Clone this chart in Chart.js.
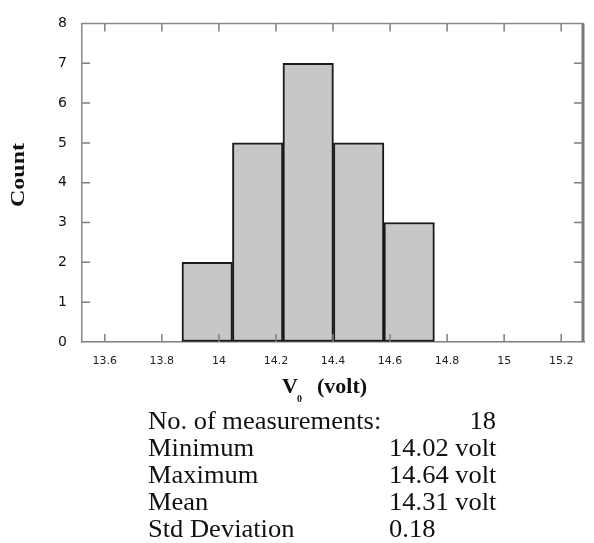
<!DOCTYPE html>
<html>
<head>
<meta charset="utf-8">
<script src="https://cdn.jsdelivr.net/npm/chart.js@4/dist/chart.umd.min.js"></script>
<style>
  html, body { margin: 0; padding: 0; background: #fff; }
  #wrap { width: 594px; height: 543px; }
</style>
</head>
<body>
<div id="wrap"><canvas id="hist"></canvas></div>
<script>
// histogram bins (centres, volt) and counts
const binCenters = [13.959, 14.136, 14.313, 14.490, 14.667];
const counts = [2, 5, 7, 5, 3];

const xTicks = [13.6, 13.8, 14, 14.2, 14.4, 14.6, 14.8, 15, 15.2];
const yTicks = [0, 1, 2, 3, 4, 5, 6, 7, 8];

// summary table under the plot
const statLabels = ["No. of measurements:", "Minimum", "Maximum", "Mean", "Std Deviation"];
const statValues = ["18", "14.02 volt", "14.64 volt", "14.31 volt", "0.18"];

const SERIF = "'Liberation Serif', 'Times New Roman', serif";
const SANS = "'DejaVu Sans', sans-serif";

// frame on all four sides with inward tick marks, plus titles and stats
const framePlugin = {
  id: "frame",
  afterDraw(chart) {
    const { ctx, chartArea: a, scales } = chart;
    const x = scales.x, y = scales.y;
    const len = 8;
    ctx.save();

    ctx.strokeStyle = "#8a8a8a";
    ctx.lineWidth = 1.5;
    ctx.beginPath();
    ctx.moveTo(a.left, a.top); ctx.lineTo(a.right, a.top);
    ctx.stroke();
    ctx.strokeStyle = "#7a7a7a";
    ctx.lineWidth = 3;
    ctx.beginPath();
    ctx.moveTo(a.right - 1, a.top); ctx.lineTo(a.right - 1, a.bottom);
    ctx.stroke();

    ctx.strokeStyle = "#7f7f7f";
    ctx.lineWidth = 1.5;
    ctx.beginPath();
    xTicks.forEach(v => {
      const px = x.getPixelForValue(v);
      ctx.moveTo(px, a.bottom); ctx.lineTo(px, a.bottom - len);
      ctx.moveTo(px, a.top); ctx.lineTo(px, a.top + len);
    });
    yTicks.slice(1, -1).forEach(v => {
      const py = y.getPixelForValue(v);
      ctx.moveTo(a.left, py); ctx.lineTo(a.left + len, py);
      ctx.moveTo(a.right - 2, py); ctx.lineTo(a.right - 2 - len, py);
    });
    ctx.stroke();

    // y title
    ctx.fillStyle = "#111";
    ctx.save();
    ctx.translate(19, 175);
    ctx.rotate(-Math.PI / 2);
    ctx.scale(1, 0.75);
    ctx.font = "bold 24px " + SERIF;
    ctx.textAlign = "center";
    ctx.textBaseline = "middle";
    ctx.fillText("Count", 0, 0);
    ctx.restore();

    // x title  V0 (volt)
    ctx.textAlign = "left";
    ctx.textBaseline = "alphabetic";
    ctx.font = "bold 22px " + SERIF;
    ctx.fillText("V", 282, 393);
    ctx.fillText("(volt)", 317, 393);
    ctx.font = "bold 10px " + SERIF;
    ctx.fillText("0", 297, 402);

    // stats
    ctx.font = "25px " + SERIF;
    statLabels.forEach((lab, i) => {
      const base = 429 + i * 27;
      ctx.save();
      ctx.translate(148, base);
      ctx.scale(1.06, 1);
      ctx.textAlign = "left";
      ctx.fillText(lab, 0, 0);
      ctx.restore();
      ctx.save();
      if (i === 0) {
        ctx.translate(496, base);
        ctx.scale(1.06, 1);
        ctx.textAlign = "right";
      } else {
        ctx.translate(389, base);
        ctx.scale(1.06, 1);
        ctx.textAlign = "left";
      }
      ctx.fillText(statValues[i], 0, 0);
      ctx.restore();
    });

    ctx.restore();
  }
};

new Chart(document.getElementById("hist"), {
  type: "bar",
  data: {
    datasets: [{
      data: binCenters.map((c, i) => ({ x: c, y: counts[i] })),
      backgroundColor: "#c7c7c7",
      borderColor: "#1a1a1a",
      borderWidth: 2,
      borderSkipped: false,
      barPercentage: 1,
      categoryPercentage: 1
    }]
  },
  options: {
    responsive: true,
    maintainAspectRatio: false,
    animation: false,
    layout: { padding: { left: 0, right: 10, top: 14, bottom: 0 } },
    plugins: {
      legend: { display: false },
      tooltip: { enabled: false }
    },
    scales: {
      x: {
        type: "linear",
        offset: false,
        min: 13.52,
        max: 15.28,
        afterBuildTicks: s => { s.ticks = xTicks.map(v => ({ value: v })); },
        afterFit: s => { s.height = 201; },
        grid: { drawOnChartArea: false, drawTicks: false },
        border: { display: true, color: "#7f7f7f", width: 1.5 },
        ticks: {
          padding: 13,
          color: "#222",
          font: { family: SANS, size: 11 },
          maxRotation: 0,
          callback: v => String(v)
        }
      },
      y: {
        min: 0,
        max: 8,
        afterBuildTicks: s => { s.ticks = yTicks.map(v => ({ value: v })); },
        afterFit: s => { s.width = 82; },
        grid: { drawOnChartArea: false, drawTicks: false },
        border: { display: true, color: "#8a8a8a", width: 1.5 },
        ticks: {
          padding: 15,
          color: "#111",
          font: { family: SANS, size: 14 }
        }
      }
    }
  },
  plugins: [framePlugin]
});
</script>
</body>
</html>
